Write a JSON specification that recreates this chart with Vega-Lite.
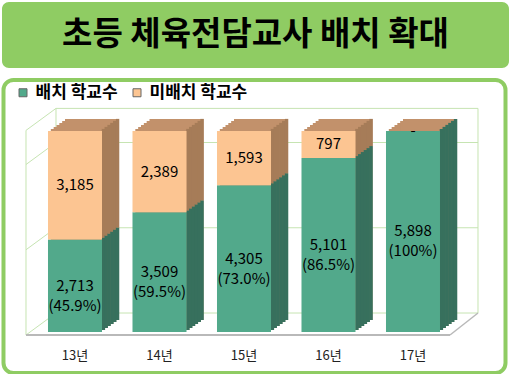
{
  "$schema": "https://vega.github.io/schema/vega-lite/v6.json",
  "padding": {"left": 1, "top": 2, "right": 0, "bottom": 0},
  "spacing": 10,
  "center": true,
  "background": "white",
  "resolve": {"legend": {"color": "independent"}},
  "config": {
    "axisX": {"domain": false, "ticks": false, "grid": false, "labelAngle": 0, "offset": -25, "labelPadding": 1, "labelDx": -6, "labelFont": "Noto Sans CJK KR", "labelFontSize": 13, "labelColor": "#222222"}
  },
  "datasets": {
    "bars": [
      {"year": "13년", "type": "배치 학교수", "value": 2713, "label": "2,713\n(45.9%)"},
      {"year": "13년", "type": "미배치 학교수", "value": 3185, "label": "3,185"},
      {"year": "14년", "type": "배치 학교수", "value": 3509, "label": "3,509\n(59.5%)"},
      {"year": "14년", "type": "미배치 학교수", "value": 2389, "label": "2,389"},
      {"year": "15년", "type": "배치 학교수", "value": 4305, "label": "4,305\n(73.0%)"},
      {"year": "15년", "type": "미배치 학교수", "value": 1593, "label": "1,593"},
      {"year": "16년", "type": "배치 학교수", "value": 5101, "label": "5,101\n(86.5%)"},
      {"year": "16년", "type": "미배치 학교수", "value": 797, "label": "797"},
      {"year": "17년", "type": "배치 학교수", "value": 5898, "label": "5,898\n(100%)"},
      {"year": "17년", "type": "미배치 학교수", "value": 0, "label": "-"}
    ],
    "grid": [{"g": 0}, {"g": 2500}, {"g": 5000}, {"g": 6000}],
    "edge": [{"lo": 0, "hi": 6000}]
  },
  "vconcat": [
    {
      "width": 507,
      "height": 66,
      "view": {"fill": "#8fcc63", "stroke": null, "cornerRadius": 7},
      "data": {"values": [{"t": "초등 체육전담교사 배치 확대"}]},
      "mark": {"type": "text", "font": "Noto Sans CJK KR", "fontSize": 33, "fontWeight": "bold", "color": "#000000"},
      "encoding": {"text": {"field": "t", "type": "nominal"}}
    },
    {
      "width": 502,
      "height": 293,
      "view": {"stroke": "#8fcc63", "strokeWidth": 4, "cornerRadius": 10, "fill": "white"},
      "data": {"name": "bars"},
      "layer": [
        {
          "data": {"name": "grid"},
          "mark": {"type": "rule", "color": "#c6e4b2", "strokeWidth": 1, "xOffset": -19, "x2Offset": 65, "yOffset": -19},
          "encoding": {
            "x": {"datum": "13년", "type": "nominal", "axis": {"title": null}, "scale": {"domain": ["13년", "14년", "15년", "16년", "17년"], "paddingInner": 0.3609, "paddingOuter": 0.6509, "align": 0.4045}},
            "x2": {"datum": "17년"},
            "y": {"field": "g", "type": "quantitative", "axis": null, "scale": {"domain": [-1202, 7390], "nice": false, "zero": false}}
          }
        },
        {
          "data": {"name": "grid"},
          "mark": {"type": "rule", "color": "#c6e4b2", "strokeWidth": 1, "xOffset": -49, "x2Offset": -19, "yOffset": 3, "y2Offset": -19},
          "encoding": {
            "x": {"datum": "13년", "type": "nominal", "axis": {"title": null}},
            "x2": {"datum": "13년"},
            "y": {"field": "g", "type": "quantitative", "axis": null},
            "y2": {"field": "g"}
          }
        },
        {
          "data": {"name": "edge"},
          "mark": {"type": "rule", "color": "#c6e4b2", "strokeWidth": 1, "xOffset": -19, "yOffset": -19, "y2Offset": -19},
          "encoding": {
            "x": {"datum": "13년", "type": "nominal", "axis": {"title": null}},
            "y": {"field": "lo", "type": "quantitative", "axis": null},
            "y2": {"field": "hi"}
          }
        },
        {
          "data": {"name": "edge"},
          "mark": {"type": "rule", "color": "#c6e4b2", "strokeWidth": 1, "xOffset": 65, "yOffset": -19, "y2Offset": -19},
          "encoding": {
            "x": {"datum": "17년", "type": "nominal", "axis": {"title": null}},
            "y": {"field": "lo", "type": "quantitative", "axis": null},
            "y2": {"field": "hi"}
          }
        },
        {
          "data": {"name": "edge"},
          "mark": {"type": "rule", "color": "#c6e4b2", "strokeWidth": 1, "xOffset": -49, "yOffset": 3, "y2Offset": 3},
          "encoding": {
            "x": {"datum": "13년", "type": "nominal", "axis": {"title": null}},
            "y": {"field": "lo", "type": "quantitative", "axis": null},
            "y2": {"field": "hi"}
          }
        },
        {
          "data": {"name": "edge"},
          "mark": {"type": "rule", "color": "#b9b9b9", "strokeWidth": 2, "xOffset": -49, "x2Offset": 37, "yOffset": 3},
          "encoding": {
            "x": {"datum": "13년", "type": "nominal", "axis": {"title": null}},
            "x2": {"datum": "17년"},
            "y": {"field": "lo", "type": "quantitative", "axis": null}
          }
        },
        {
          "data": {"name": "edge"},
          "mark": {"type": "rule", "color": "#b9b9b9", "strokeWidth": 1.5, "xOffset": 37, "x2Offset": 65, "yOffset": 3, "y2Offset": -19},
          "encoding": {
            "x": {"datum": "17년", "type": "nominal", "axis": {"title": null}},
            "x2": {"datum": "17년"},
            "y": {"field": "lo", "type": "quantitative", "axis": null},
            "y2": {"field": "lo"}
          }
        },
        {"mark": {"type": "bar", "color": "#c2916b", "xOffset": 2.83, "yOffset": -2, "y2Offset": -2}, "encoding": {"x": {"field": "year", "type": "nominal", "axis": {"title": null}}, "y": {"field": "value", "type": "quantitative", "axis": null, "stack": "zero"}, "detail": {"field": "type"}, "order": {"field": "type", "sort": "descending"}}},
        {"mark": {"type": "bar", "color": "#c2916b", "xOffset": 5.67, "yOffset": -4, "y2Offset": -4}, "encoding": {"x": {"field": "year", "type": "nominal", "axis": {"title": null}}, "y": {"field": "value", "type": "quantitative", "axis": null, "stack": "zero"}, "detail": {"field": "type"}, "order": {"field": "type", "sort": "descending"}}},
        {"mark": {"type": "bar", "color": "#c2916b", "xOffset": 8.5, "yOffset": -6, "y2Offset": -6}, "encoding": {"x": {"field": "year", "type": "nominal", "axis": {"title": null}}, "y": {"field": "value", "type": "quantitative", "axis": null, "stack": "zero"}, "detail": {"field": "type"}, "order": {"field": "type", "sort": "descending"}}},
        {"mark": {"type": "bar", "color": "#c2916b", "xOffset": 11.33, "yOffset": -8, "y2Offset": -8}, "encoding": {"x": {"field": "year", "type": "nominal", "axis": {"title": null}}, "y": {"field": "value", "type": "quantitative", "axis": null, "stack": "zero"}, "detail": {"field": "type"}, "order": {"field": "type", "sort": "descending"}}},
        {"mark": {"type": "bar", "color": "#c2916b", "xOffset": 14.17, "yOffset": -10, "y2Offset": -10}, "encoding": {"x": {"field": "year", "type": "nominal", "axis": {"title": null}}, "y": {"field": "value", "type": "quantitative", "axis": null, "stack": "zero"}, "detail": {"field": "type"}, "order": {"field": "type", "sort": "descending"}}},
        {"mark": {"type": "bar", "color": "#c2916b", "xOffset": 17, "yOffset": -12, "y2Offset": -12}, "encoding": {"x": {"field": "year", "type": "nominal", "axis": {"title": null}}, "y": {"field": "value", "type": "quantitative", "axis": null, "stack": "zero"}, "detail": {"field": "type"}, "order": {"field": "type", "sort": "descending"}}},
        {"mark": {"type": "bar", "width": 3.4, "xOffset": 28.42, "yOffset": -2, "y2Offset": -2}, "encoding": {"x": {"field": "year", "type": "nominal", "axis": {"title": null}}, "y": {"field": "value", "type": "quantitative", "axis": null, "stack": "zero"}, "detail": {"field": "type"}, "order": {"field": "type", "sort": "descending"}, "fill": {"condition": {"test": "datum.type === '배치 학교수'", "value": "#37705d"}, "value": "#a67c58"}}},
        {"mark": {"type": "bar", "width": 3.4, "xOffset": 31.25, "yOffset": -4, "y2Offset": -4}, "encoding": {"x": {"field": "year", "type": "nominal", "axis": {"title": null}}, "y": {"field": "value", "type": "quantitative", "axis": null, "stack": "zero"}, "detail": {"field": "type"}, "order": {"field": "type", "sort": "descending"}, "fill": {"condition": {"test": "datum.type === '배치 학교수'", "value": "#37705d"}, "value": "#a67c58"}}},
        {"mark": {"type": "bar", "width": 3.4, "xOffset": 34.08, "yOffset": -6, "y2Offset": -6}, "encoding": {"x": {"field": "year", "type": "nominal", "axis": {"title": null}}, "y": {"field": "value", "type": "quantitative", "axis": null, "stack": "zero"}, "detail": {"field": "type"}, "order": {"field": "type", "sort": "descending"}, "fill": {"condition": {"test": "datum.type === '배치 학교수'", "value": "#37705d"}, "value": "#a67c58"}}},
        {"mark": {"type": "bar", "width": 3.4, "xOffset": 36.92, "yOffset": -8, "y2Offset": -8}, "encoding": {"x": {"field": "year", "type": "nominal", "axis": {"title": null}}, "y": {"field": "value", "type": "quantitative", "axis": null, "stack": "zero"}, "detail": {"field": "type"}, "order": {"field": "type", "sort": "descending"}, "fill": {"condition": {"test": "datum.type === '배치 학교수'", "value": "#37705d"}, "value": "#a67c58"}}},
        {"mark": {"type": "bar", "width": 3.4, "xOffset": 39.75, "yOffset": -10, "y2Offset": -10}, "encoding": {"x": {"field": "year", "type": "nominal", "axis": {"title": null}}, "y": {"field": "value", "type": "quantitative", "axis": null, "stack": "zero"}, "detail": {"field": "type"}, "order": {"field": "type", "sort": "descending"}, "fill": {"condition": {"test": "datum.type === '배치 학교수'", "value": "#37705d"}, "value": "#a67c58"}}},
        {"mark": {"type": "bar", "width": 3.4, "xOffset": 42.58, "yOffset": -12, "y2Offset": -12}, "encoding": {"x": {"field": "year", "type": "nominal", "axis": {"title": null}}, "y": {"field": "value", "type": "quantitative", "axis": null, "stack": "zero"}, "detail": {"field": "type"}, "order": {"field": "type", "sort": "descending"}, "fill": {"condition": {"test": "datum.type === '배치 학교수'", "value": "#37705d"}, "value": "#a67c58"}}},
        {
          "mark": {"type": "bar"},
          "encoding": {
            "x": {"field": "year", "type": "nominal", "axis": {"title": null}},
            "y": {"field": "value", "type": "quantitative", "axis": null, "stack": "zero"},
            "color": {
              "field": "type", "type": "nominal",
              "scale": {"domain": ["배치 학교수", "미배치 학교수"], "range": ["#52a98b", "#fcc592"]},
              "legend": {"title": null, "orient": "none", "legendX": 11, "legendY": 4, "direction": "horizontal", "symbolType": "square", "symbolSize": 64, "symbolStrokeColor": "#666666", "symbolStrokeWidth": 1, "labelFont": "Noto Sans CJK KR", "labelFontSize": 17, "labelFontWeight": "bold", "labelColor": "#000000", "labelOffset": 4, "columnPadding": 10, "padding": 0}
            },
            "order": {"field": "type", "sort": "descending"}
          }
        },
        {
          "mark": {"type": "text", "font": "Noto Sans CJK KR", "fontSize": 15, "lineHeight": 20, "lineBreak": "\n", "color": "#000000", "align": "center", "baseline": "middle"},
          "encoding": {
            "x": {"field": "year", "type": "nominal", "axis": {"title": null}},
            "y": {"field": "value", "type": "quantitative", "axis": null, "stack": "zero", "bandPosition": 0.5},
            "detail": {"field": "type"},
            "order": {"field": "type", "sort": "descending"},
            "text": {"field": "label", "type": "nominal"}
          }
        }
      ]
    }
  ]
}
